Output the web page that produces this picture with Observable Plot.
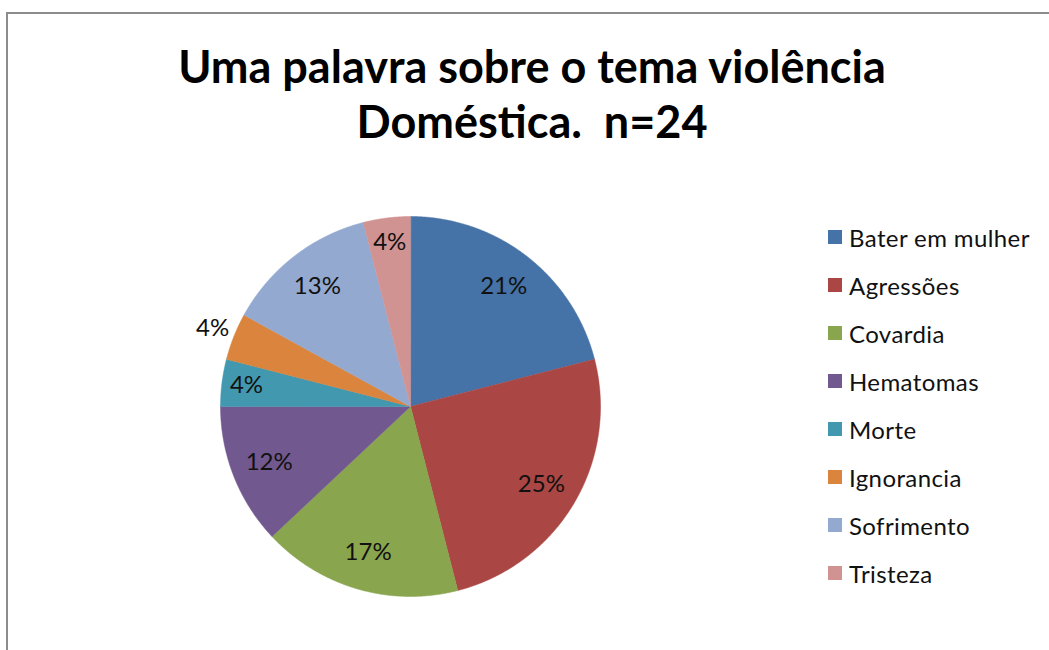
<!DOCTYPE html>
<html>
<head>
<meta charset="utf-8">
<script src="https://cdn.jsdelivr.net/npm/d3@7"></script>
<script src="https://cdn.jsdelivr.net/npm/@observablehq/plot@0.6"></script>
<style>
  html, body { margin: 0; padding: 0; background: #fff; }
  #page { position: relative; width: 1049px; height: 650px; overflow: hidden; font-family: Lato, "Open Sans", sans-serif; }
  #frame { position: absolute; left: 6px; top: 12px; width: 1100px; height: 700px; border-top: 2px solid #8c8c8c; border-left: 2px solid #8c8c8c; }
  #title { position: absolute; left: 0; top: 39px; width: 1064px; text-align: center; font-weight: bold; font-size: 45px; line-height: 55px; color: #000; }
  #chart { position: absolute; left: 0; top: 0; }
  #legend { position: absolute; left: 828px; top: 213px; }
  .item { display: flex; align-items: center; height: 48px; font-size: 24px; letter-spacing: 0.4px; color: #111; }
  .sw { width: 14px; height: 14px; margin-right: 7px; }
</style>
</head>
<body>
<div id="page">
  <div id="frame"></div>
  <div id="title">Uma palavra sobre o tema violência<br>Doméstica.&nbsp; n=24</div>
  <div id="chart"></div>
  <div id="legend"></div>
</div>
<script>
const categories = ["Bater em mulher", "Agressões", "Covardia", "Hematomas", "Morte", "Ignorancia", "Sofrimento", "Tristeza"];
const values = [21, 25, 17, 12, 4, 4, 13, 4];
const colors = ["#4572A7", "#AA4643", "#89A54E", "#71588F", "#4198AF", "#DB843D", "#93A9CF", "#D19392"];
const outsideLabels = ["Ignorancia"];

const arcs = d3.pie().sort(null).value((d, i) => values[i])(categories);

// polygon vertices for each wedge (unit circle, y up, angle clockwise from top)
const wedgePoints = [];
arcs.forEach((a, i) => {
  const name = categories[i];
  wedgePoints.push({slice: name, x: 0, y: 0});
  const n = Math.max(2, Math.ceil((a.endAngle - a.startAngle) / 0.005));
  for (let k = 0; k <= n; k++) {
    const t = a.startAngle + (a.endAngle - a.startAngle) * k / n;
    wedgePoints.push({slice: name, x: Math.sin(t), y: Math.cos(t)});
  }
});

const labels = arcs.map((a, i) => {
  const t = (a.startAngle + a.endAngle) / 2;
  const r = outsideLabels.includes(categories[i]) ? 1.12 : (values[i] <= 5 ? 0.87 : 0.8);
  return {slice: categories[i], text: values[i] + "%", x: r * Math.sin(t), y: r * Math.cos(t)};
});

const cx = 410, cy = 406, R = 190;
const chart = Plot.plot({
  width: 1049,
  height: 650,
  margin: 0,
  x: {domain: [-1, 1], range: [cx - R, cx + R], axis: null},
  y: {domain: [-1, 1], range: [cy + R, cy - R], axis: null},
  color: {domain: categories, range: colors},
  style: {background: "transparent", overflow: "visible"},
  marks: [
    Plot.line(wedgePoints, {x: "x", y: "y", z: "slice", fill: "slice", stroke: "slice", strokeWidth: 0.5, curve: "linear-closed"}),
    Plot.text(labels, {x: "x", y: "y", text: "text", fill: "#111", fontSize: 24, fontFamily: "Lato, 'Open Sans', sans-serif"})
  ]
});
document.getElementById("chart").appendChild(chart);

const legend = document.getElementById("legend");
categories.forEach((c, i) => {
  const row = document.createElement("div");
  row.className = "item";
  const sw = document.createElement("div");
  sw.className = "sw";
  sw.style.background = colors[i];
  const tx = document.createElement("span");
  tx.textContent = c;
  row.appendChild(sw);
  row.appendChild(tx);
  legend.appendChild(row);
});
</script>
</body>
</html>
